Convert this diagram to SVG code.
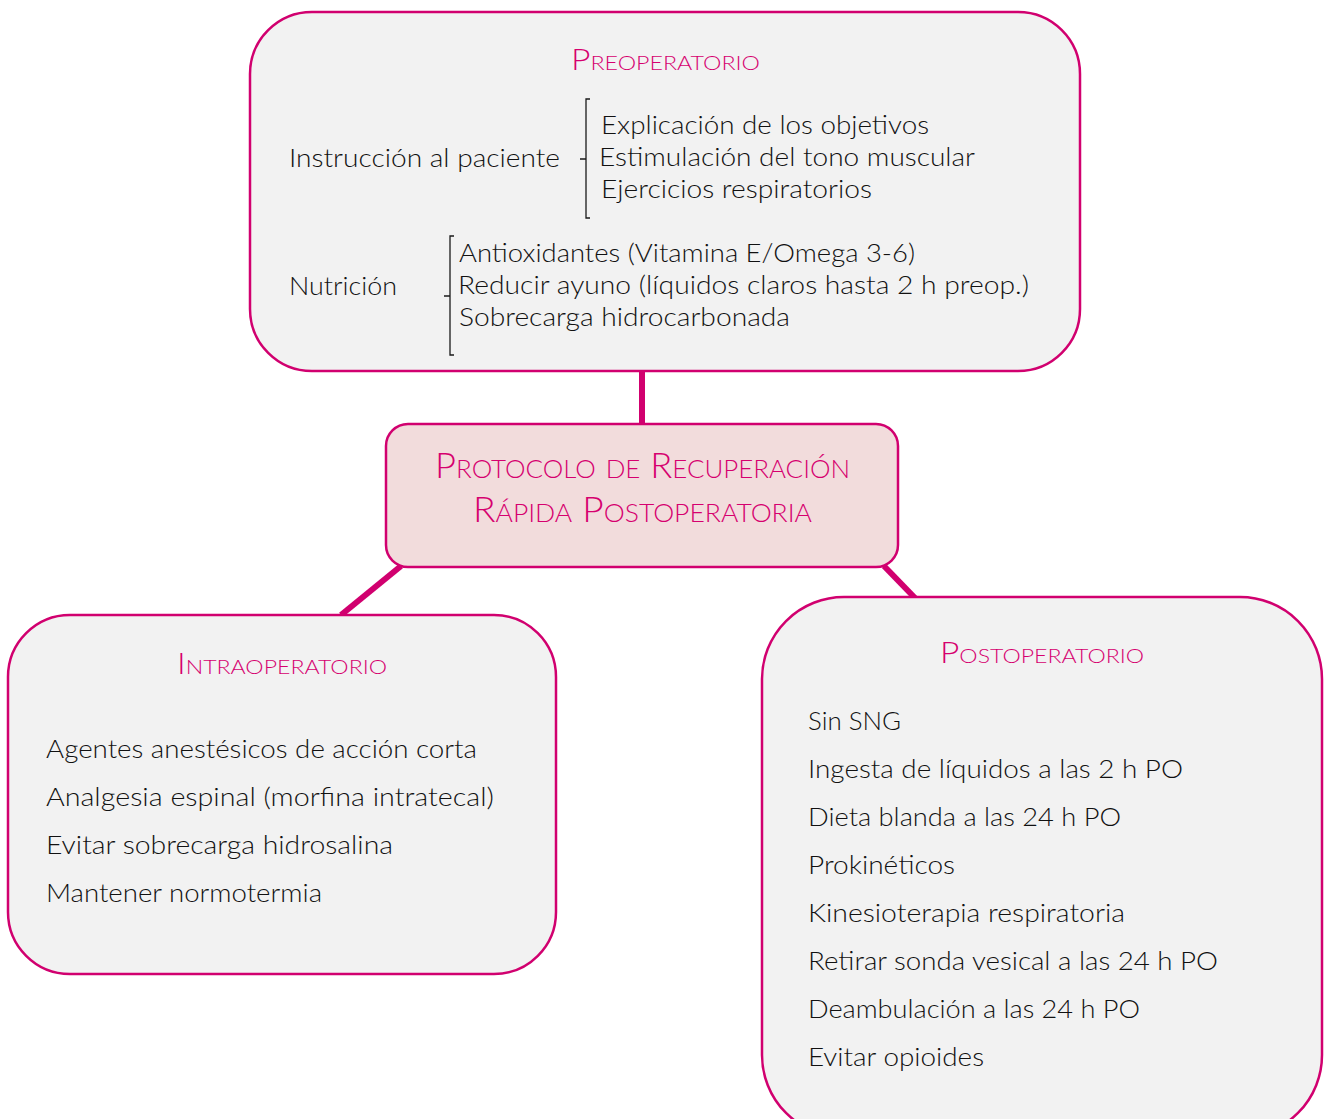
<svg xmlns="http://www.w3.org/2000/svg" width="1331" height="1119" viewBox="0 0 1331 1119">
<style>
.box{fill:#F2F2F2;stroke:#D1006F;stroke-width:2.5}
.main{fill:#F2DCDC;stroke:#D1006F;stroke-width:2.5}
.t{font-family:Lato,"Liberation Sans",sans-serif;font-weight:300;font-size:25px;fill:#111111}
.h{font-family:Lato,"Liberation Sans",sans-serif;font-weight:300;fill:#D6006F;font-variant:small-caps}
.br{fill:none;stroke:#1A1A1A;stroke-width:1.3}
.c{stroke:#D1006F;stroke-width:6;fill:none}
</style>
<rect width="1331" height="1119" fill="#FFFFFF"/>
<g id="connectors">
<line class="c" x1="642" y1="371" x2="642" y2="424"/>
<line class="c" x1="401" y1="566" x2="341" y2="615"/>
<line class="c" x1="884" y1="566" x2="915" y2="598"/>
</g>
<g id="preoperatorio">
<rect class="box" x="250" y="12" width="830" height="359" rx="62"/>
<text class="h" x="571" y="70" font-size="29" textLength="189" lengthAdjust="spacingAndGlyphs">Preoperatorio</text>
<text class="t" x="289" y="167" textLength="271" lengthAdjust="spacingAndGlyphs">Instrucción al paciente</text>
<path class="br" d="M590,99 H586 V218 H590 M586,159 H580"/>
<text class="t" x="601" y="134" textLength="328" lengthAdjust="spacingAndGlyphs">Explicación de los objetivos</text>
<text class="t" x="599" y="166" textLength="376" lengthAdjust="spacingAndGlyphs">Estimulación del tono muscular</text>
<text class="t" x="601" y="198" textLength="271" lengthAdjust="spacingAndGlyphs">Ejercicios respiratorios</text>
<text class="t" x="289" y="295" textLength="108" lengthAdjust="spacingAndGlyphs">Nutrición</text>
<path class="br" d="M454,236 H450 V355 H454 M450,296 H444"/>
<text class="t" x="459" y="262" textLength="456" lengthAdjust="spacingAndGlyphs">Antioxidantes (Vitamina E/Omega 3-6)</text>
<text class="t" x="458" y="294" textLength="571" lengthAdjust="spacingAndGlyphs">Reducir ayuno (líquidos claros hasta 2 h preop.)</text>
<text class="t" x="459" y="326" textLength="331" lengthAdjust="spacingAndGlyphs">Sobrecarga hidrocarbonada</text>
</g>
<g id="protocolo">
<rect class="main" x="386" y="424" width="512" height="143" rx="22"/>
<text class="h" x="435" y="478" font-size="35" textLength="415" lengthAdjust="spacingAndGlyphs">Protocolo de Recuperación</text>
<text class="h" x="473" y="522" font-size="35" textLength="339" lengthAdjust="spacingAndGlyphs">Rápida Postoperatoria</text>
</g>
<g id="intraoperatorio">
<rect class="box" x="8" y="615" width="548" height="359" rx="62"/>
<text class="h" x="177" y="674" font-size="29" textLength="210" lengthAdjust="spacingAndGlyphs">Intraoperatorio</text>
<text class="t" x="46" y="758" textLength="431" lengthAdjust="spacingAndGlyphs">Agentes anestésicos de acción corta</text>
<text class="t" x="46" y="806" textLength="448" lengthAdjust="spacingAndGlyphs">Analgesia espinal (morfina intratecal)</text>
<text class="t" x="46" y="854" textLength="347" lengthAdjust="spacingAndGlyphs">Evitar sobrecarga hidrosalina</text>
<text class="t" x="46" y="902" textLength="276" lengthAdjust="spacingAndGlyphs">Mantener normotermia</text>
</g>
<g id="postoperatorio">
<rect class="box" x="762" y="597" width="560" height="540" rx="82"/>
<text class="h" x="940" y="663" font-size="29" textLength="204" lengthAdjust="spacingAndGlyphs">Postoperatorio</text>
<text class="t" x="808" y="730" textLength="93" lengthAdjust="spacingAndGlyphs">Sin SNG</text>
<text class="t" x="808" y="778" textLength="375" lengthAdjust="spacingAndGlyphs">Ingesta de líquidos a las 2 h PO</text>
<text class="t" x="808" y="826" textLength="313" lengthAdjust="spacingAndGlyphs">Dieta blanda a las 24 h PO</text>
<text class="t" x="808" y="874" textLength="147" lengthAdjust="spacingAndGlyphs">Prokinéticos</text>
<text class="t" x="808" y="922" textLength="317" lengthAdjust="spacingAndGlyphs">Kinesioterapia respiratoria</text>
<text class="t" x="808" y="970" textLength="410" lengthAdjust="spacingAndGlyphs">Retirar sonda vesical a las 24 h PO</text>
<text class="t" x="808" y="1018" textLength="332" lengthAdjust="spacingAndGlyphs">Deambulación a las 24 h PO</text>
<text class="t" x="808" y="1066" textLength="176" lengthAdjust="spacingAndGlyphs">Evitar opioides</text>
</g>
</svg>
